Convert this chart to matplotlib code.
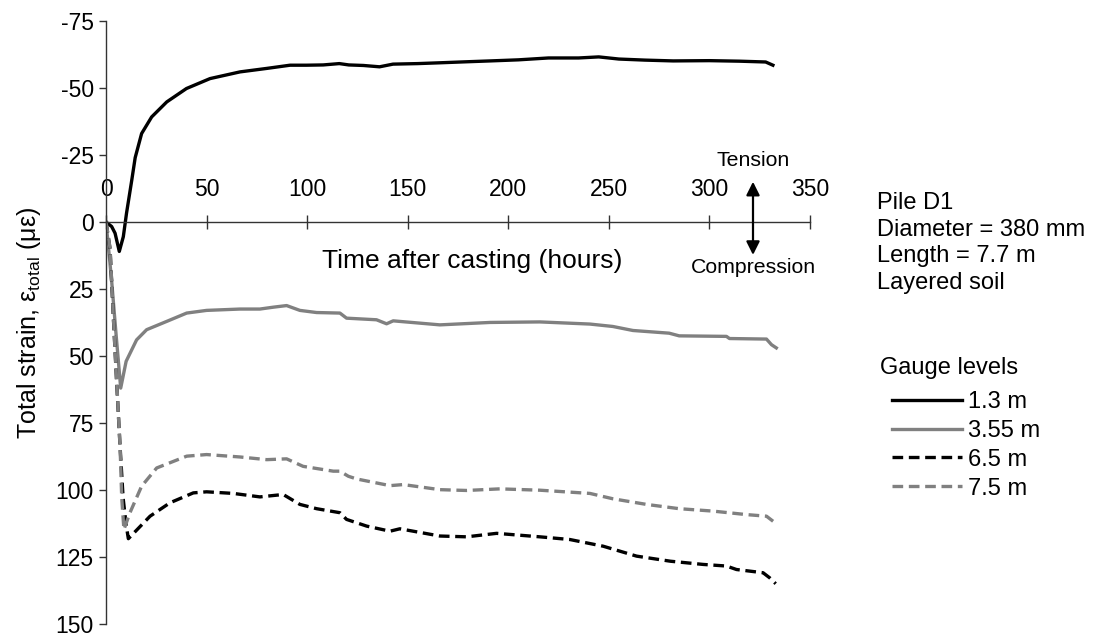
import matplotlib
matplotlib.use("Agg")
import matplotlib.pyplot as plt

plt.rcParams['font.family'] = 'Liberation Sans'
plt.rcParams['mathtext.fontset'] = 'custom'
plt.rcParams['mathtext.rm'] = 'Liberation Sans'
plt.rcParams['mathtext.it'] = 'Liberation Sans:italic'
plt.rcParams['axes.unicode_minus'] = False

# Gauge readings, time in hours after casting, strain in microstrain
t_13 = [0, 2.8, 4.5, 6.6, 8.6, 10.2, 12.8, 14.5, 17.7, 22.7, 30.2, 40, 51.7, 66.6, 79.9,
        91.5, 99.7, 108, 116, 120.7, 128, 136, 142.7, 155, 166, 180, 191, 205, 220, 235,
        245, 255, 268, 282, 300, 315, 328, 331.6]
e_13 = [0, 1.7, 4.2, 11, 5.5, -3.3, -15.6, -24, -33, -39.2, -44.8, -49.8, -53.5, -56, -57.3,
        -58.5, -58.5, -58.6, -59.1, -58.6, -58.4, -57.9, -58.9, -59.1, -59.4, -59.8, -60.1,
        -60.5, -61.2, -61.2, -61.6, -60.8, -60.4, -60.1, -60.2, -60.0, -59.7, -58.5]

t_355 = [0, 2.8, 5, 7.3, 10, 15.2, 20.2, 30.2, 40.1, 50, 66.6, 76.5, 83.2, 89.8, 96.4, 104.7,
         116.3, 119.6, 134.5, 139.5, 142.8, 166, 190.9, 215.7, 240.6, 252, 262, 280, 285,
         308.5, 310, 328.4, 330.9, 333.3]
e_355 = [0, 22, 42, 62, 52, 44, 40.2, 37.1, 34, 33, 32.5, 32.5, 31.8, 31.2, 33, 33.8, 34,
         35.9, 36.5, 38, 36.9, 38.4, 37.5, 37.3, 38.1, 39, 40.5, 41.5, 42.5, 42.7, 43.5, 43.7,
         45.8, 47]

t_65 = [0, 2, 3.6, 5.3, 7, 8.5, 10, 11.1, 21.9, 31.8, 43.4, 50, 63.3, 76.5, 88.1, 96.4, 104.7,
        116.3, 119.6, 129.6, 141.2, 146.1, 166, 179.3, 194.2, 215.7, 230.6, 247.2, 263.8,
        280.6, 296.9, 308.5, 313.5, 326.7, 330, 333]
e_65 = [0, 10, 35, 60, 84, 103, 113, 118.2, 109.8, 104.8, 101.1, 100.7, 101.3, 102.6, 101.7,
        105.4, 107, 108.5, 111, 113.5, 115.4, 114.5, 117.2, 117.5, 116.2, 117.5, 118.5, 121,
        124.7, 126.6, 127.8, 128.4, 129.7, 130.9, 132.8, 135]

t_75 = [0, 2, 3.6, 5.3, 7, 7.8, 8.9, 11.9, 17.7, 25.2, 40.1, 50, 66.6, 79.9, 89.8, 98, 113,
        116.3, 120.5, 124.6, 141.2, 147.8, 166, 179.3, 195.8, 215.7, 240.6, 252, 268.7, 285,
        301.8, 318.4, 328.4, 331.7]
e_75 = [0, 9.8, 34.6, 59.5, 84, 102.8, 114.8, 108.5, 98.6, 91.8, 87.4, 86.8, 87.7, 88.7, 88.4,
        91.2, 93, 93, 94.9, 95.9, 98.4, 98, 99.9, 100.2, 99.6, 100.1, 101.3, 103.3, 105.4, 107,
        107.9, 109.2, 109.8, 111.7]

x_ticks = [0, 50, 100, 150, 200, 250, 300, 350]
y_ticks = [-75, -50, -25, 0, 25, 50, 75, 100, 125, 150]
pile_info = ['Pile D1', 'Diameter = 380 mm', 'Length = 7.7 m', 'Layered soil']

fig = plt.figure(figsize=(10.93, 6.36), dpi=100)
ax = fig.add_axes([0.097, 0.019, 0.644, 0.948])

grey = '#808080'
ax.plot(t_13, e_13, color='black', lw=2.4, label='1.3 m')
ax.plot(t_355, e_355, color=grey, lw=2.4, label='3.55 m')
ax.plot(t_65, e_65, color='black', lw=2.4, dashes=(3.2, 1.7), label='6.5 m')
ax.plot(t_75, e_75, color=grey, lw=2.4, dashes=(3.2, 1.7), label='7.5 m')

ax.set_xlim(0, 350)
ax.set_ylim(150, -75)
ax.set_xticks(x_ticks)
ax.set_yticks(y_ticks)

# horizontal axis runs through zero strain, labels sit above it
ax.spines['bottom'].set_visible(False)
ax.spines['right'].set_visible(False)
ax.spines['top'].set_position(('data', 0))
ax.xaxis.set_ticks_position('top')
for s in ['top', 'left']:
    ax.spines[s].set_color('#333333')
    ax.spines[s].set_linewidth(1)
ax.tick_params(axis='x', direction='inout', length=9.5, width=1, color='#333333',
               labelsize=16.5, pad=10)
ax.tick_params(axis='y', direction='out', length=4.8, width=1, color='#333333',
               labelsize=16.5, pad=4)

ax.set_ylabel('Total strain, $\\mathrm{ε}_{\\mathrm{total}}$ (με)', fontsize=18, labelpad=9)
ax.text(182, 17, 'Time after casting (hours)', fontsize=19, ha='center', va='baseline')

# tension / compression sign convention
ax.annotate('', xy=(321.7, -15), xytext=(321.7, 12.3),
            arrowprops=dict(arrowstyle='<|-|>', color='black', lw=1.6,
                            mutation_scale=20, shrinkA=0, shrinkB=0))
ax.text(321.7, -20.9, 'Tension', fontsize=15.3, ha='center', va='baseline')
ax.text(321.7, 19.1, 'Compression', fontsize=15.3, ha='center', va='baseline')

for i, line in enumerate(pile_info):
    fig.text(877 / 1093, 1 - (203 + 26.7 * i) / 636, line, fontsize=17, va='center')

fig.text(880 / 1093, 1 - 368 / 636, 'Gauge levels', fontsize=17, va='center')
ax.legend(loc='upper left', bbox_to_anchor=(891.7 / 1093, 1 - 391 / 636),
          bbox_transform=fig.transFigure, frameon=False, fontsize=17,
          borderpad=0, borderaxespad=0, handlelength=2.96, handletextpad=0.27,
          labelspacing=0.29)

fig.savefig('out.png', dpi=100)
